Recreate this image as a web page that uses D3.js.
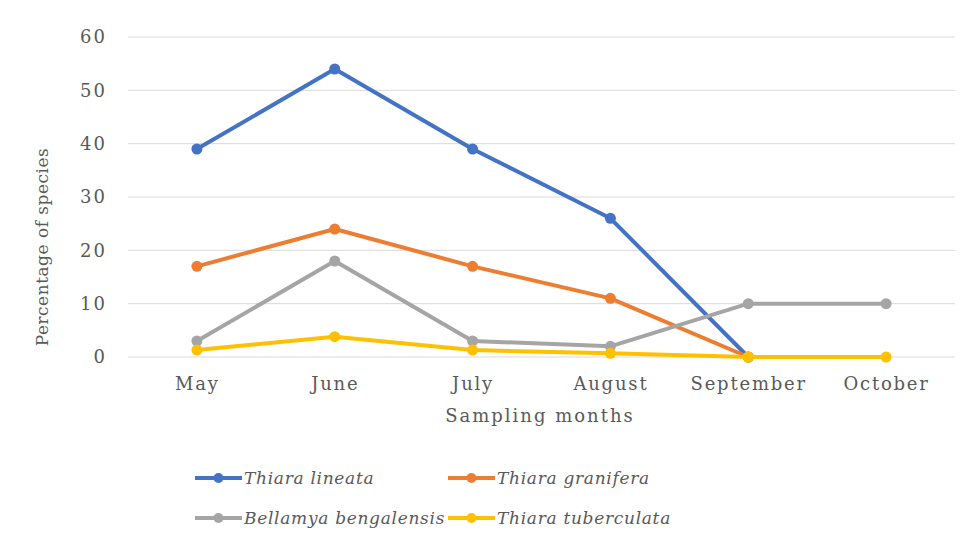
<!DOCTYPE html>
<html>
<head>
<meta charset="utf-8">
<script src="https://cdn.jsdelivr.net/npm/d3@7"></script>
<style>
  body { margin: 0; background: #fff; }
  text { font-family: "DejaVu Serif", "Liberation Serif", serif; fill: #595959; }
</style>
</head>
<body>
<div id="chart"></div>
<script>
// Chart data
const months = ["May", "June", "July", "August", "September", "October"];
const seriesNames = ["Thiara lineata", "Thiara granifera", "Bellamya bengalensis", "Thiara tuberculata"];
const lineataValues = [39, 54, 39, 26, 0, null];
const graniferaValues = [17, 24, 17, 11, 0, null];
const bengalensisValues = [3, 18, 3, 2, 10, 10];
const tuberculataValues = [1.3, 3.8, 1.3, 0.7, 0, 0];
const yTicks = [0, 10, 20, 30, 40, 50, 60];
const colors = ["#4472C4", "#ED7D31", "#A5A5A5", "#FFC000"];

const svgWidth = 971;
const svgHeight = 540;
const margin = { top: 37, right: 16, bottom: 183, left: 128 };
const chartWidth = svgWidth - margin.left - margin.right;
const chartHeight = svgHeight - margin.top - margin.bottom;

const svg = d3.select("#chart")
  .append("svg")
  .attr("width", svgWidth)
  .attr("height", svgHeight);

const chartGroup = svg.append("g")
  .attr("transform", `translate(${margin.left}, ${margin.top})`);

// Scales
const xScale = d3.scalePoint()
  .domain(months)
  .range([0, chartWidth])
  .padding(0.5);

const yScale = d3.scaleLinear()
  .domain([0, 60])
  .range([chartHeight, 0]);

// Gridlines
chartGroup.selectAll("line.grid")
  .data(yTicks)
  .enter()
  .append("line")
  .attr("class", "grid")
  .attr("x1", 0)
  .attr("x2", chartWidth)
  .attr("y1", d => yScale(d))
  .attr("y2", d => yScale(d))
  .attr("stroke", "#d9d9d9")
  .attr("stroke-width", 1);

// Y axis
const leftAxis = d3.axisLeft(yScale).tickValues(yTicks).tickSize(0).tickPadding(21);
chartGroup.append("g")
  .call(leftAxis)
  .call(g => g.select(".domain").remove())
  .selectAll("text")
  .style("font-size", "18px")
  .style("letter-spacing", "2px");

// X axis
const bottomAxis = d3.axisBottom(xScale).tickSize(0).tickPadding(20);
chartGroup.append("g")
  .attr("transform", `translate(0, ${chartHeight})`)
  .call(bottomAxis)
  .call(g => g.select(".domain").remove())
  .selectAll("text")
  .style("font-size", "18px")
  .style("letter-spacing", "1.8px");

// Axis titles
chartGroup.append("text")
  .attr("transform", "rotate(-90)")
  .attr("x", -210)
  .attr("y", -80)
  .attr("text-anchor", "middle")
  .style("font-size", "17px")
  .style("letter-spacing", "0.5px")
  .text("Percentage of species");

chartGroup.append("text")
  .attr("x", 412)
  .attr("y", chartHeight + 65)
  .attr("text-anchor", "middle")
  .style("font-size", "18px")
  .style("letter-spacing", "2px")
  .text("Sampling months");

// Lines and markers
const allSeries = [lineataValues, graniferaValues, bengalensisValues, tuberculataValues];
const seriesData = allSeries.map((vals, i) => ({
  name: seriesNames[i],
  color: colors[i],
  points: months.map((m, j) => ({ month: m, value: vals[j] })).filter(p => p.value !== null)
}));

const line = d3.line()
  .x(d => xScale(d.month))
  .y(d => yScale(d.value));

const seriesGroups = chartGroup.selectAll("g.series")
  .data(seriesData)
  .enter()
  .append("g")
  .attr("class", "series");

seriesGroups.append("path")
  .attr("d", d => line(d.points))
  .attr("fill", "none")
  .attr("stroke", d => d.color)
  .attr("stroke-width", 4)
  .attr("stroke-linejoin", "round");

seriesGroups.selectAll("circle")
  .data(d => d.points.map(p => ({ ...p, color: d.color })))
  .enter()
  .append("circle")
  .attr("cx", d => xScale(d.month))
  .attr("cy", d => yScale(d.value))
  .attr("r", 5.5)
  .attr("fill", d => d.color);

// Legend
const legendPos = [[195, 478], [448, 478], [195, 518], [448, 518]];
const legend = svg.selectAll("g.legend")
  .data(seriesData)
  .enter()
  .append("g")
  .attr("class", "legend")
  .attr("transform", (d, i) => `translate(${legendPos[i][0]}, ${legendPos[i][1]})`);

legend.append("line")
  .attr("x1", 0)
  .attr("x2", 47)
  .attr("stroke", d => d.color)
  .attr("stroke-width", 4);

legend.append("circle")
  .attr("cx", 23.5)
  .attr("r", 5)
  .attr("fill", d => d.color);

legend.append("text")
  .attr("x", 49)
  .attr("dy", "0.35em")
  .style("font-size", "17px")
  .style("font-style", "italic")
  .style("letter-spacing", "0.7px")
  .text(d => d.name);
</script>
</body>
</html>
